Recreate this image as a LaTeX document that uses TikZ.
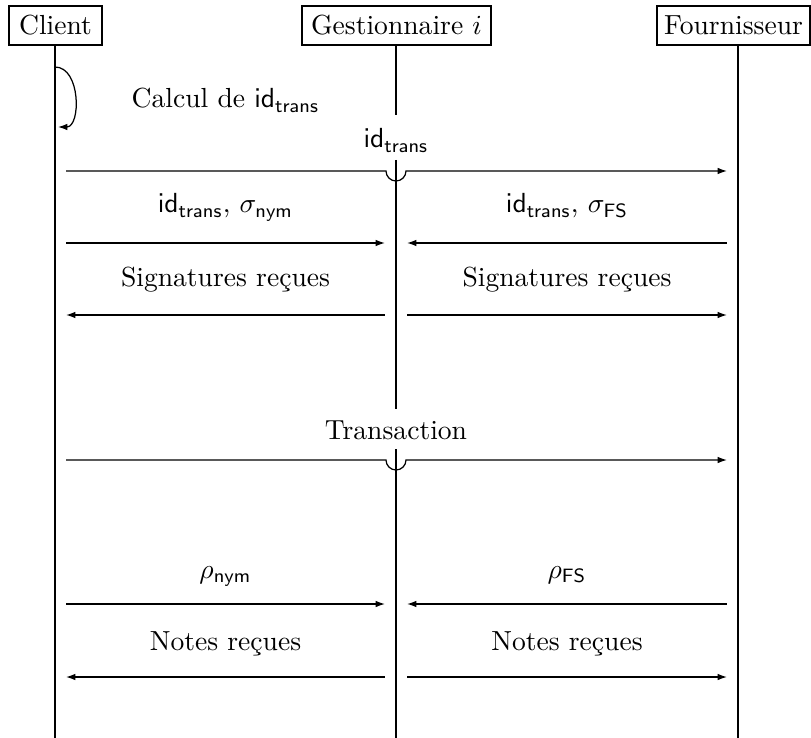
\documentclass[tikz,border=0pt]{standalone}
\usetikzlibrary{arrows.meta}
\begin{document}
\begin{tikzpicture}[x=0.3623pt,y=-0.3623pt,
  actor/.style={draw,line width=0.45pt,inner xsep=2pt,inner ysep=0pt,minimum height=14.1pt},
  life/.style={line width=0.45pt},
  msg/.style={line width=0.45pt,-{Latex[length=3.4pt,width=2.4pt]},shorten <=4pt,shorten >=4pt},
  selfmsg/.style={line width=0.45pt,-{Latex[length=3.4pt,width=2.4pt]}},
  lbl/.style={anchor=base,inner sep=0pt},
]
\useasboundingbox (0,0) rectangle (811,738);

% participants
\node[actor,minimum width=33.7pt] (C) at (55.5,25.5) {Client};
\node[actor,minimum width=68.5pt] (G) at (396.5,25.5) {Gestionnaire $i$};
\node[actor,minimum width=55.4pt] (F) at (733.5,25.5) {Fournisseur};

% lifelines
\coordinate (Cend) at (55,738);
\coordinate (Fend) at (738,738);
\coordinate (Gend) at (396,738);
\coordinate (G1) at (396,115);
\coordinate (G2) at (396,160);
\coordinate (G3) at (396,409);
\coordinate (G4) at (396,449);
\draw[life] (C.south -| Cend) -- (Cend);
\draw[life] (F.south -| Fend) -- (Fend);
\draw[life] (G.south -| Gend) -- (G1);
\draw[life] (G2) -- (G3);
\draw[life] (G4) -- (Gend);

% self message on the client
\coordinate (s0) at (55,67);
\coordinate (s1) at (58,127);
\draw[selfmsg] (s0) .. controls (81,67) and (81,127) .. (s1);
\node[lbl] (calc) at (225.5,108) {Calcul de $\mathsf{id}_{\mathsf{trans}}$};

% row anchors on the lifelines
\foreach \n/\y in {1/171,2/243,3/315,4/460,5/604,6/677}{
  \coordinate (c\n) at (55,\y);
  \coordinate (g\n) at (396,\y);
  \coordinate (f\n) at (738,\y);
  \coordinate (h\n) at (386,\y);
}

% client -> fournisseur, hopping over the gestionnaire lifeline
\node[lbl] (l1) at (396,148) {$\mathsf{id}_{\mathsf{trans}}$};
\draw[msg] (c1) -- (h1) arc[start angle=180,end angle=0,radius=10] -- (f1);

\node[lbl] (l2a) at (225.5,213) {$\mathsf{id}_{\mathsf{trans}}$, $\sigma_{\mathsf{nym}}$};
\node[lbl] (l2b) at (567,213) {$\mathsf{id}_{\mathsf{trans}}$, $\sigma_{\mathsf{FS}}$};
\draw[msg] (c2) -- (g2);
\draw[msg] (f2) -- (g2);

\node[lbl] (l3a) at (225.5,287) {Signatures reçues};
\node[lbl] (l3b) at (567,287) {Signatures reçues};
\draw[msg] (g3) -- (c3);
\draw[msg] (g3) -- (f3);

\node[lbl] (l4) at (396,439) {Transaction};
\draw[msg] (c4) -- (h4) arc[start angle=180,end angle=0,radius=10] -- (f4);

\node[lbl] (l5a) at (225.5,578) {$\rho_{\mathsf{nym}}$};
\node[lbl] (l5b) at (567,578) {$\rho_{\mathsf{FS}}$};
\draw[msg] (c5) -- (g5);
\draw[msg] (f5) -- (g5);

\node[lbl] (l6a) at (225.5,650) {Notes reçues};
\node[lbl] (l6b) at (567,650) {Notes reçues};
\draw[msg] (g6) -- (c6);
\draw[msg] (g6) -- (f6);
\end{tikzpicture}
\end{document}
